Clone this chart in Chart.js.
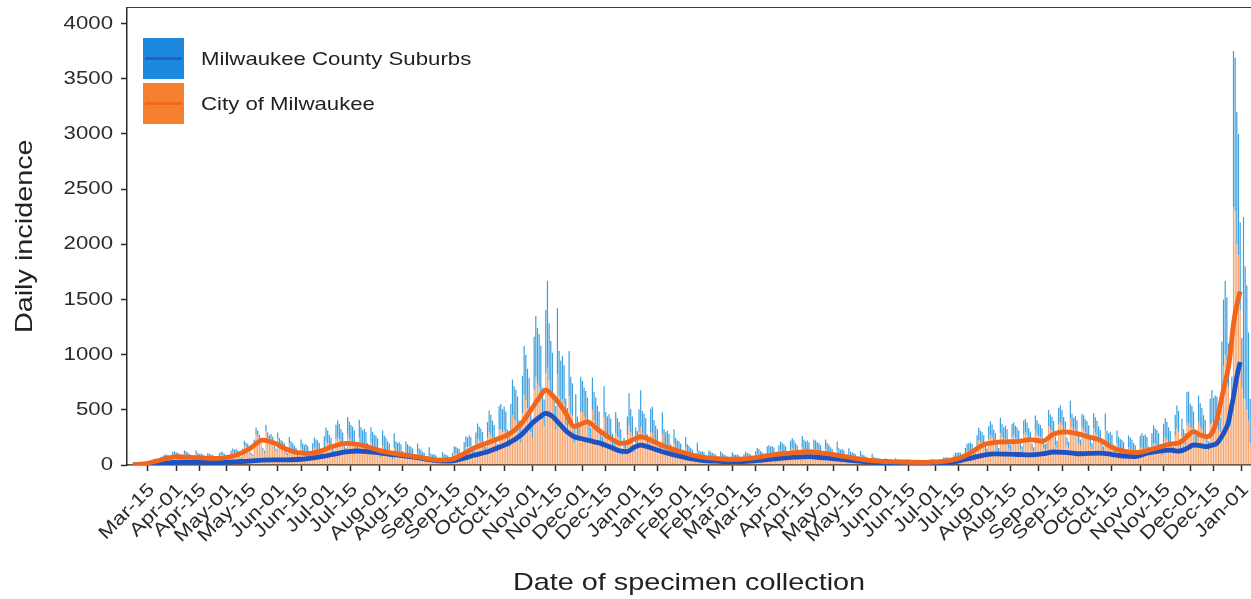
<!DOCTYPE html>
<html>
<head>
<meta charset="utf-8">
<title>Daily incidence, Milwaukee</title>
<script src="https://cdn.jsdelivr.net/npm/chart.js@4.4.1/dist/chart.umd.min.js"></script>
<style>
  html, body { margin: 0; padding: 0; background: #fff; overflow: hidden; }
  #wrap { width: 1251px; height: 599px; }
</style>
</head>
<body>
<div id="wrap"><canvas id="chart-incidence" width="1251" height="599"></canvas></div>
<script>
// first day of data, number of days shown
const START_DATE = '2020-03-03';
const DAY_COUNT = 675;
const MONTHS = ['Jan', 'Feb', 'Mar', 'Apr', 'May', 'Jun', 'Jul', 'Aug', 'Sep', 'Oct', 'Nov', 'Dec'];
const TICK_DAYS = ['01', '15'];
const Y_TICKS = [0, 500, 1000, 1500, 2000, 2500, 3000, 3500, 4000];

// daily cases, one row per week (Tue .. Mon)
const cityDaily = [
  [0, 1, 1, 2, 2, 3, 5], [5, 6, 8, 10, 9, 10, 22], [25, 30, 38, 40, 28, 30, 54], [60, 70, 72, 70, 45, 40, 90],
  [94, 86, 83, 75, 49, 41, 98], [91, 84, 74, 67, 42, 35, 98], [78, 72, 75, 68, 46, 39, 78], [75, 69, 66, 60, 39, 33, 78],
  [88, 86, 76, 66, 44, 34, 96], [114, 105, 109, 100, 67, 57, 114], [175, 161, 154, 140, 91, 77, 182], [280, 258, 226, 204, 129, 108, 301],
  [240, 220, 230, 210, 140, 120, 240], [188, 173, 165, 150, 98, 83, 195], [150, 138, 121, 109, 69, 58, 161], [126, 116, 121, 110, 74, 63, 126],
  [156, 144, 138, 125, 81, 69, 163], [215, 198, 173, 157, 99, 83, 231], [254, 234, 205, 185, 117, 98, 273], [238, 219, 209, 190, 124, 105, 247],
  [198, 182, 190, 173, 116, 99, 198], [163, 150, 143, 130, 85, 72, 169], [143, 132, 116, 105, 66, 55, 154], [114, 105, 109, 100, 67, 57, 114],
  [100, 92, 88, 80, 52, 44, 104], [78, 72, 63, 57, 36, 30, 84], [54, 50, 52, 47, 32, 27, 30], [70, 58, 55, 50, 33, 28, 65],
  [105, 100, 95, 90, 60, 55, 125], [165, 160, 170, 160, 105, 90, 185], [238, 219, 209, 190, 124, 105, 247], [299, 276, 242, 219, 138, 115, 322],
  [324, 297, 311, 284, 189, 162, 324], [450, 414, 396, 360, 234, 198, 468], [637, 588, 515, 466, 294, 245, 686], [800, 736, 704, 640, 416, 352, 832],
  [880, 768, 672, 608, 384, 320, 820], [624, 572, 598, 546, 364, 312, 624], [470, 440, 200, 380, 260, 220, 480], [475, 437, 418, 380, 247, 209, 494],
  [403, 372, 326, 295, 186, 155, 434], [288, 264, 276, 252, 168, 144, 288], [260, 240, 200, 90, 150, 120, 270], [360, 300, 260, 110, 200, 180, 300],
  [340, 290, 275, 250, 163, 138, 300], [290, 240, 210, 190, 120, 100, 280], [192, 176, 184, 168, 112, 96, 192], [150, 138, 132, 120, 78, 66, 156],
  [117, 108, 95, 86, 54, 45, 126], [84, 77, 81, 74, 49, 42, 84], [75, 69, 66, 60, 39, 33, 78], [68, 62, 55, 49, 31, 26, 73],
  [62, 57, 60, 55, 36, 31, 62], [75, 69, 66, 60, 39, 33, 78], [98, 90, 79, 71, 45, 38, 105], [114, 105, 109, 100, 67, 57, 114],
  [131, 121, 116, 105, 68, 58, 137], [150, 138, 121, 109, 69, 58, 161], [142, 130, 136, 124, 83, 71, 142], [138, 127, 121, 110, 72, 61, 143],
  [124, 114, 100, 90, 57, 48, 133], [94, 86, 90, 82, 55, 47, 94], [75, 69, 66, 60, 39, 33, 78], [59, 54, 47, 43, 27, 23, 63],
  [45, 41, 40, 36, 23, 20, 18], [40, 35, 33, 30, 20, 17, 39], [35, 31, 30, 27, 18, 15, 33], [31, 29, 28, 25, 16, 14, 32],
  [30, 28, 26, 24, 16, 13, 31], [36, 33, 31, 28, 18, 15, 20], [46, 44, 46, 42, 28, 24, 56], [70, 68, 72, 68, 45, 40, 95],
  [125, 128, 132, 125, 82, 70, 175], [225, 207, 198, 180, 117, 99, 234], [267, 246, 215, 195, 123, 103, 287], [252, 231, 242, 221, 147, 126, 252],
  [269, 247, 237, 215, 140, 118, 280], [296, 274, 239, 217, 137, 114, 319], [280, 260, 250, 230, 150, 130, 140], [350, 322, 308, 280, 182, 154, 364],
  [390, 360, 315, 285, 180, 150, 420], [342, 314, 328, 299, 200, 171, 342], [319, 293, 281, 255, 166, 140, 332], [293, 270, 236, 214, 135, 113, 315],
  [198, 182, 190, 173, 116, 99, 198], [156, 144, 138, 125, 81, 69, 163], [146, 134, 118, 106, 67, 56, 157], [156, 143, 150, 137, 91, 78, 156],
  [200, 184, 176, 160, 104, 88, 208], [247, 228, 200, 181, 114, 95, 266], [330, 300, 120, 260, 200, 180, 360], [375, 345, 330, 300, 195, 165, 390],
  [345, 318, 278, 252, 159, 133, 371], [380, 360, 400, 420, 320, 300, 700], [900, 1000, 950, 700, 350, 500, 2335], [2300, 2000, 1900, 1400, 700, 600, 600],
  [500, 400, 200]
].flat();

const suburbDaily = [
  [0, 0, 1, 1, 1, 1, 2], [2, 3, 4, 5, 4, 5, 10], [9, 10, 13, 14, 9, 10, 19], [20, 22, 23, 21, 13, 12, 29],
  [31, 29, 28, 25, 16, 14, 33], [33, 30, 26, 24, 15, 13, 35], [30, 28, 29, 26, 18, 15, 30], [28, 25, 24, 22, 14, 12, 29],
  [33, 30, 27, 24, 15, 13, 33], [36, 33, 35, 32, 21, 18, 36], [44, 40, 39, 35, 23, 19, 46], [59, 54, 47, 43, 27, 23, 63],
  [54, 50, 52, 47, 32, 27, 54], [56, 52, 50, 45, 29, 25, 59], [65, 60, 53, 48, 30, 25, 70], [72, 66, 69, 63, 42, 36, 72],
  [94, 86, 83, 75, 49, 41, 98], [124, 114, 100, 90, 57, 48, 133], [150, 138, 121, 109, 69, 58, 161], [156, 144, 138, 125, 81, 69, 163],
  [144, 132, 138, 126, 84, 72, 144], [138, 127, 121, 110, 72, 61, 143], [124, 114, 100, 90, 57, 48, 133], [102, 94, 98, 89, 60, 51, 102],
  [88, 81, 77, 70, 46, 39, 91], [72, 66, 58, 52, 33, 28, 77], [48, 44, 46, 42, 28, 24, 26], [48, 40, 39, 35, 23, 19, 46],
  [65, 62, 58, 55, 35, 30, 80], [95, 90, 98, 92, 60, 50, 110], [138, 127, 121, 110, 72, 61, 143], [195, 180, 158, 143, 90, 75, 210],
  [228, 209, 219, 200, 133, 114, 228], [325, 299, 286, 260, 169, 143, 338], [442, 408, 357, 323, 204, 170, 476], [550, 506, 484, 440, 286, 242, 572],
  [790, 516, 452, 409, 258, 215, 600], [408, 374, 391, 357, 238, 204, 408], [330, 300, 140, 260, 180, 150, 320], [288, 265, 253, 230, 150, 127, 299],
  [260, 240, 210, 190, 120, 100, 280], [192, 176, 184, 168, 112, 96, 192], [165, 150, 125, 60, 95, 75, 170], [290, 205, 180, 75, 140, 125, 205],
  [338, 200, 190, 175, 114, 96, 210], [237, 168, 147, 133, 84, 70, 196], [132, 121, 127, 116, 77, 66, 132], [94, 86, 83, 75, 49, 41, 98],
  [72, 66, 58, 52, 33, 28, 77], [48, 44, 46, 42, 28, 24, 48], [44, 40, 39, 35, 23, 19, 46], [39, 36, 32, 29, 18, 15, 42],
  [36, 33, 35, 32, 21, 18, 36], [44, 40, 39, 35, 23, 19, 46], [59, 54, 47, 43, 27, 23, 63], [66, 61, 63, 58, 39, 33, 66],
  [81, 75, 72, 65, 42, 36, 85], [94, 86, 76, 68, 43, 36, 101], [90, 83, 86, 79, 53, 45, 90], [85, 78, 75, 68, 44, 37, 88],
  [75, 70, 61, 55, 35, 29, 81], [58, 53, 55, 50, 34, 29, 58], [48, 44, 42, 38, 25, 21, 49], [36, 34, 29, 27, 17, 14, 39],
  [28, 25, 24, 22, 14, 12, 10], [22, 20, 19, 17, 11, 9, 22], [18, 16, 15, 14, 9, 8, 18], [15, 14, 13, 12, 8, 7, 16],
  [15, 14, 13, 12, 8, 7, 16], [18, 16, 15, 14, 9, 8, 10], [25, 24, 25, 23, 15, 13, 31], [42, 40, 44, 42, 28, 24, 60],
  [68, 68, 72, 68, 44, 38, 95], [113, 104, 99, 90, 59, 50, 117], [130, 120, 105, 95, 60, 50, 140], [118, 108, 113, 103, 69, 59, 118],
  [119, 109, 105, 95, 62, 52, 124], [120, 110, 97, 87, 55, 46, 129], [127, 117, 112, 104, 68, 59, 63], [148, 136, 130, 118, 77, 65, 153],
  [150, 138, 121, 109, 69, 58, 161], [122, 112, 117, 107, 71, 61, 122], [131, 121, 116, 105, 68, 58, 137], [140, 130, 113, 103, 65, 54, 151],
  [114, 105, 109, 100, 67, 57, 114], [100, 92, 88, 80, 52, 44, 104], [101, 94, 82, 74, 47, 39, 109], [132, 121, 127, 116, 77, 66, 132],
  [160, 147, 141, 128, 83, 70, 166], [176, 162, 142, 128, 81, 68, 189], [210, 190, 75, 160, 125, 110, 300], [290, 213, 204, 185, 120, 102, 240],
  [215, 198, 173, 157, 99, 83, 231], [300, 250, 230, 200, 140, 130, 420], [600, 670, 570, 400, 200, 300, 1415], [1390, 1200, 1100, 800, 450, 1645, 1200],
  [1127, 800, 400]
].flat();

// 7-day averages (thick lines)
const avgDates = [
  '2020-03-06', '2020-03-13', '2020-03-20', '2020-03-27', '2020-04-03', '2020-04-10', '2020-04-17', '2020-04-24',
  '2020-05-01', '2020-05-08', '2020-05-15', '2020-05-23', '2020-05-30', '2020-06-06', '2020-06-13', '2020-06-20',
  '2020-06-27', '2020-07-04', '2020-07-12', '2020-07-19', '2020-07-26', '2020-08-02', '2020-08-09', '2020-08-16',
  '2020-08-23', '2020-08-30', '2020-09-06', '2020-09-13', '2020-09-20', '2020-09-27', '2020-10-04', '2020-10-11',
  '2020-10-18', '2020-10-25', '2020-11-01', '2020-11-05', '2020-11-09', '2020-11-13', '2020-11-17', '2020-11-21',
  '2020-11-26', '2020-11-30', '2020-12-04', '2020-12-08', '2020-12-12', '2020-12-18', '2020-12-24', '2020-12-28',
  '2021-01-01', '2021-01-05', '2021-01-09', '2021-01-13', '2021-01-20', '2021-01-29', '2021-02-05', '2021-02-12',
  '2021-02-19', '2021-02-26', '2021-03-05', '2021-03-12', '2021-03-19', '2021-03-26', '2021-04-02', '2021-04-09',
  '2021-04-16', '2021-04-23', '2021-04-30', '2021-05-07', '2021-05-14', '2021-05-21', '2021-05-28', '2021-06-04',
  '2021-06-11', '2021-06-18', '2021-06-25', '2021-07-02', '2021-07-09', '2021-07-16', '2021-07-23', '2021-07-30',
  '2021-08-06', '2021-08-13', '2021-08-20', '2021-08-27', '2021-09-03', '2021-09-10', '2021-09-17', '2021-09-24',
  '2021-10-01', '2021-10-08', '2021-10-15', '2021-10-22', '2021-10-29', '2021-11-05', '2021-11-12', '2021-11-19',
  '2021-11-24', '2021-11-29', '2021-12-03', '2021-12-07', '2021-12-11', '2021-12-14', '2021-12-17', '2021-12-20',
  '2021-12-22', '2021-12-24', '2021-12-25', '2021-12-27', '2021-12-29', '2021-12-31'
];
const cityAvg = [
  2, 10, 35, 62, 75, 70, 65, 60,
  68, 95, 145, 226, 200, 145, 112, 105,
  128, 168, 196, 186, 160, 128, 108, 92,
  76, 58, 45, 50, 95, 155, 195, 235,
  280, 370, 520, 610, 678, 630, 558, 470,
  350, 370, 392, 350, 301, 240, 196, 205,
  235, 256, 240, 211, 165, 120, 90, 70,
  60, 52, 52, 60, 75, 95, 105, 115,
  120, 110, 97, 78, 60, 45, 36, 30,
  27, 25, 24, 28, 40, 65, 120, 185,
  205, 210, 215, 230, 215, 280, 300, 285,
  255, 225, 160, 125, 112, 130, 160, 190,
  200, 256, 305, 271, 256, 290, 407, 617,
  750, 889, 1000, 1281, 1450, 1573
];
const suburbAvg = [
  1, 4, 12, 20, 25, 25, 25, 22,
  25, 30, 35, 45, 46, 46, 50, 60,
  75, 95, 118, 127, 120, 108, 95, 82,
  68, 52, 38, 36, 58, 88, 115, 155,
  200, 270, 380, 430, 467, 440, 377, 310,
  256, 240, 226, 210, 196, 160, 125, 122,
  160, 180, 165, 145, 112, 78, 55, 40,
  35, 30, 30, 35, 45, 55, 65, 72,
  75, 68, 58, 48, 38, 28, 22, 17,
  14, 12, 12, 14, 22, 40, 65, 90,
  100, 98, 95, 92, 100, 118, 115, 102,
  105, 108, 95, 80, 76, 108, 125, 135,
  125, 150, 181, 175, 166, 180, 196, 260,
  316, 390, 467, 620, 800, 934
];

const FONT = "'Liberation Sans', Arial, Helvetica, sans-serif";
const TEXT_STRETCH = 1.2; // the figure's lettering is wider than plain Arial

// draw all canvas text a little wider, anchored at its own origin
const baseFillText = CanvasRenderingContext2D.prototype.fillText;
CanvasRenderingContext2D.prototype.fillText = function (text, x, y) {
    this.save();
    this.translate(x, y);
    this.scale(TEXT_STRETCH, 1);
    baseFillText.call(this, text, 0, 0);
    this.restore();
};

function buildDays(start, count) {
    const days = [];
    const d = new Date(start + 'T00:00:00Z');
    for (let i = 0; i < count; i++) {
        days.push(d.toISOString().slice(0, 10));
        d.setUTCDate(d.getUTCDate() + 1);
    }
    return days;
}

const days = buildDays(START_DATE, DAY_COUNT);

function tickLabel(iso) {
    const parts = iso.split('-');
    return TICK_DAYS.includes(parts[2]) ? MONTHS[Number(parts[1]) - 1] + '-' + parts[2] : '';
}

const legendItems = [
    { text: 'Milwaukee County Suburbs', fill: '#1c89de', stripe: '#2a5cc4' },
    { text: 'City of Milwaukee', fill: '#f5812e', stripe: '#ec6a22' }
];

// top frame line and the legend inside the panel
const panelDecor = {
    id: 'panelDecor',
    afterDraw(chart) {
        const ctx = chart.ctx;
        const area = chart.chartArea;
        ctx.save();
        ctx.strokeStyle = '#3a3a3a';
        ctx.lineWidth = 1.2;
        ctx.beginPath();
        ctx.moveTo(area.left, area.top);
        ctx.lineTo(area.right, area.top);
        ctx.stroke();

        const boxX = 143, boxY = 38, boxW = 41, boxH = 41, gap = 4;
        ctx.font = '18.5px ' + FONT;
        ctx.textBaseline = 'middle';
        ctx.textAlign = 'left';
        legendItems.forEach((item, i) => {
            const y = boxY + i * (boxH + gap);
            ctx.fillStyle = item.fill;
            ctx.fillRect(boxX, y, boxW, boxH);
            ctx.strokeStyle = item.stripe;
            ctx.lineWidth = 3;
            ctx.beginPath();
            ctx.moveTo(boxX + 2, y + boxH / 2);
            ctx.lineTo(boxX + boxW - 2, y + boxH / 2);
            ctx.stroke();
            ctx.fillStyle = '#1f1f1f';
            ctx.fillText(item.text, 201, y + boxH / 2 + 1);
        });
        ctx.restore();
    }
};

function initIncidenceChart() {
    const canvas = document.getElementById('chart-incidence');

    new Chart(canvas, {
        type: 'bar',
        data: {
            labels: days,
            datasets: [
                {
                    label: 'City of Milwaukee',
                    data: cityDaily,
                    backgroundColor: '#f6a56e',
                    barPercentage: 0.72,
                    categoryPercentage: 1,
                    borderWidth: 0,
                    order: 2
                },
                {
                    label: 'Milwaukee County Suburbs',
                    data: suburbDaily,
                    backgroundColor: '#3b9fe0',
                    barPercentage: 0.72,
                    categoryPercentage: 1,
                    borderWidth: 0,
                    order: 2
                },
                {
                    type: 'line',
                    label: 'Suburbs 7-day average',
                    data: avgDates.map((d, i) => ({ x: d, y: suburbAvg[i] })),
                    stack: 'suburbAvg',
                    borderColor: '#1e52c2',
                    borderWidth: 4.8,
                    pointRadius: 0,
                    cubicInterpolationMode: 'monotone',
                    fill: false,
                    order: 1
                },
                {
                    type: 'line',
                    label: 'City 7-day average',
                    data: avgDates.map((d, i) => ({ x: d, y: cityAvg[i] })),
                    stack: 'cityAvg',
                    borderColor: '#f2651c',
                    borderWidth: 4.8,
                    pointRadius: 0,
                    cubicInterpolationMode: 'monotone',
                    fill: false,
                    order: 0
                }
            ]
        },
        options: {
            responsive: false,
            animation: false,
            events: [],
            layout: { padding: { top: 7.5, right: 0, bottom: 0, left: 0 } },
            plugins: {
                legend: { display: false },
                tooltip: { enabled: false }
            },
            scales: {
                x: {
                    stacked: true,
                    offset: true,
                    grid: {
                        drawOnChartArea: false,
                        drawTicks: true,
                        offset: false,
                        tickLength: 6,
                        tickWidth: 1.5,
                        tickColor: (ctx) => tickLabel(days[ctx.index] || '') ? '#2a2a2a' : 'rgba(0,0,0,0)'
                    },
                    border: { display: true, color: '#2a2a2a', width: 1.5 },
                    ticks: {
                        autoSkip: false,
                        minRotation: 45,
                        maxRotation: 45,
                        padding: 8,
                        labelOffset: 4,
                        color: '#2b2b2b',
                        font: { family: FONT, size: 18.5 },
                        callback: function (value) {
                            return tickLabel(this.getLabelForValue(value));
                        }
                    },
                    title: {
                        display: true,
                        text: 'Date of specimen collection',
                        color: '#222',
                        font: { family: FONT, size: 24 },
                        padding: { top: 0, bottom: 1.6 }
                    },
                    afterFit: (scale) => {
                        scale.height = 134;
                        scale.paddingLeft = 0;
                        scale.paddingRight = 0;
                    }
                },
                y: {
                    stacked: true,
                    min: 0,
                    max: 4145,
                    grid: {
                        drawOnChartArea: false,
                        tickLength: 6,
                        tickWidth: 1.5,
                        tickColor: '#2a2a2a'
                    },
                    border: { display: true, color: '#2a2a2a', width: 1.5 },
                    ticks: {
                        padding: 8,
                        color: '#2b2b2b',
                        font: { family: FONT, size: 18.5 },
                        callback: (value) => String(value)
                    },
                    afterBuildTicks: (scale) => {
                        scale.ticks = Y_TICKS.map((v) => ({ value: v }));
                    },
                    title: {
                        display: true,
                        text: 'Daily incidence',
                        color: '#222',
                        font: { family: FONT, size: 24 },
                        padding: { top: 11, bottom: 0 }
                    },
                    afterFit: (scale) => {
                        scale.width = 127;
                        scale.paddingTop = 0;
                        scale.paddingBottom = 0;
                    }
                }
            }
        },
        plugins: [panelDecor]
    });
}

initIncidenceChart();
</script>
</body>
</html>
